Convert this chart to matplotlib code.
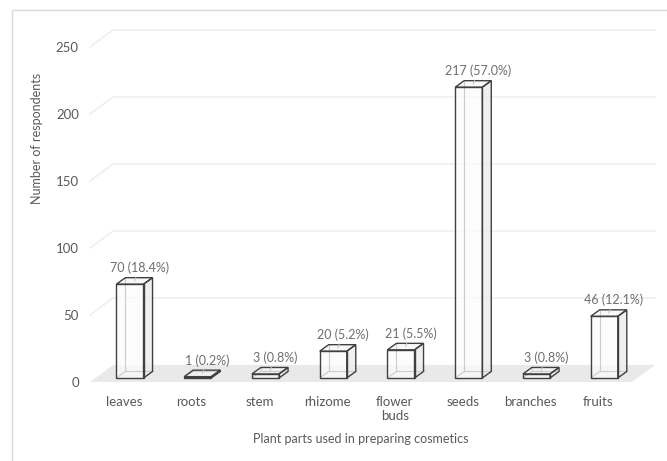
import matplotlib
matplotlib.use('Agg')
import matplotlib.pyplot as plt
from matplotlib.patches import Polygon, Rectangle

plt.rcParams['font.family'] = ['Lato', 'DejaVu Sans']

# respondents per plant part
parts = ['leaves', 'roots', 'stem', 'rhizome', 'flower\nbuds', 'seeds', 'branches', 'fruits']
counts = [70, 1, 3, 20, 21, 217, 3, 46]
percents = [18.4, 0.2, 0.8, 5.2, 5.5, 57.0, 0.8, 12.1]
yticks = [0, 50, 100, 150, 200, 250]

# fake 3d: depth of the floor/back wall and of each column, in data units
DX, DY = 0.34, 12.7
BAR_W, BAR_OFF, BAR_BASE = 0.40, 0.09, 3.0
BAR_DX, BAR_DY = 0.133, 4.85

text_col = '#595959'
label_col = '#6e6e6e'
edge_col = '#404040'

W, H = 667, 461
fig = plt.figure(figsize=(W / 100, H / 100), dpi=100)
fig.patch.set_facecolor('white')

# outer chart frame
fig.patches.append(Rectangle((12 / W, -0.05), 1.2, (H - 10) / H + 0.05,
                             transform=fig.transFigure, fill=False,
                             edgecolor='#d9d9d9', lw=1.0))

ax = fig.add_axes([90 / W, 79 / H, 542 / W, 335 / H])
ax.set_xlim(-0.5, len(parts) - 0.5)
ax.set_ylim(0, 250)
for s in ax.spines.values():
    s.set_visible(False)
ax.patch.set_visible(False)

x0, x1 = -0.5, len(parts) - 0.5

# floor
ax.add_patch(Polygon([(x0, 0), (x1, 0), (x1 + DX, DY), (x0 + DX, DY)],
                     closed=True, facecolor='#e9e9e9', edgecolor='none',
                     clip_on=False, zorder=1))

# gridlines on side wall and back wall
for v in yticks[1:]:
    ax.plot([x0, x0 + DX, x1 + DX], [v, v + DY, v + DY], color='#ececec',
            lw=1.0, clip_on=False, zorder=1)

ax.set_yticks(yticks)
ax.set_yticklabels([str(v) for v in yticks])
ax.set_xticks(range(len(parts)))
ax.set_xticklabels(parts, linespacing=1.2)
ax.tick_params(axis='both', length=0, labelsize=9.5, labelcolor=text_col)
ax.tick_params(axis='y', pad=8)
ax.tick_params(axis='x', pad=10)

for i, (v, p) in enumerate(zip(counts, percents)):
    l = i + BAR_OFF - BAR_W / 2
    r = l + BAR_W
    b = BAR_BASE
    t = BAR_BASE + v
    faces = [
        ([(r, b), (r + BAR_DX, b + BAR_DY), (r + BAR_DX, t + BAR_DY), (r, t)], '#ececec'),
        ([(l, t), (r, t), (r + BAR_DX, t + BAR_DY), (l + BAR_DX, t + BAR_DY)], '#f6f6f6'),
        ([(l, b), (r, b), (r, t), (l, t)], '#fdfbfd'),
    ]
    for pts, fc in faces:
        ax.add_patch(Polygon(pts, closed=True, facecolor=fc, alpha=0.75,
                             edgecolor='none', clip_on=False, zorder=3))
    # hidden back edges seen through the column
    ax.plot([l + BAR_DX, l + BAR_DX, r + BAR_DX], [t + BAR_DY, b + BAR_DY, b + BAR_DY],
            color='#cccccc', lw=0.8, clip_on=False, zorder=3.5)
    ax.plot([l, l + BAR_DX], [b, b + BAR_DY], color='#cccccc', lw=0.8,
            clip_on=False, zorder=3.5)
    for pts, fc in faces:
        ax.add_patch(Polygon(pts, closed=True, fill=False, edgecolor=edge_col,
                             lw=1.0, joinstyle='miter', clip_on=False, zorder=4))

    ax.annotate(f'{v} ({p:.1f}%)', xy=(i + BAR_OFF + BAR_DX / 2, t + BAR_DY / 2),
                xytext=(5, 13), textcoords='offset pixels', ha='center', va='center',
                fontsize=9, color=label_col, zorder=5,
                arrowprops=dict(arrowstyle='-', color='#bfbfbf', lw=0.7,
                                shrinkA=0, shrinkB=0))

fig.text(37 / W, 1 - 138 / H, 'Number of respondents', rotation=90,
         ha='center', va='center', fontsize=9, color=text_col)
fig.text(361 / W, 1 - 439 / H, 'Plant parts used in preparing cosmetics',
         ha='center', va='center', fontsize=9, color=text_col)

fig.savefig('out.png', dpi=100)
